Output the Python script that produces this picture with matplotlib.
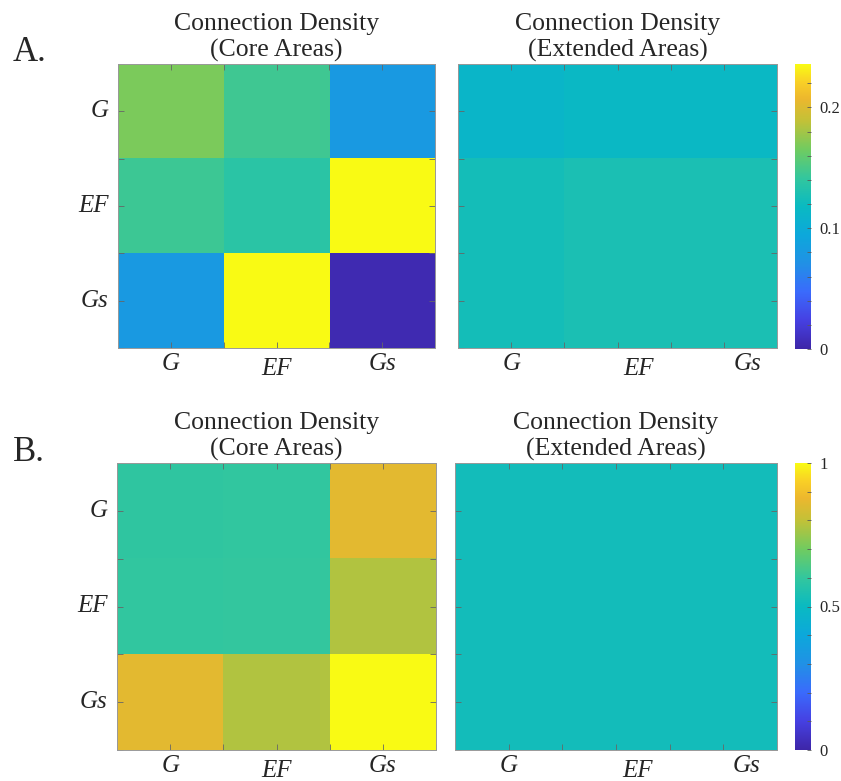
import numpy as np
import matplotlib
matplotlib.use("Agg")
import matplotlib.pyplot as plt
from matplotlib.colors import LinearSegmentedColormap
from matplotlib.ticker import MultipleLocator

# area labels
areas = ["G", "EF", "Gs"]

# A: connection density, colour range 0..0.236
a_core = np.array([[0.168, 0.146, 0.080],
                   [0.145, 0.137, 0.236],
                   [0.080, 0.236, 0.004]])
a_ext = np.array([[0.112, 0.116, 0.116],
                  [0.124, 0.128, 0.128],
                  [0.124, 0.128, 0.128]])
a_vmax = 0.236
a_cbar_ticks = [0, 0.1, 0.2]

# B: normalised, colour range 0..1
b_core = np.array([[0.59, 0.595, 0.86],
                   [0.595, 0.60, 0.78],
                   [0.86, 0.78, 1.00]])
b_ext = np.array([[0.52, 0.52, 0.52],
                  [0.52, 0.52, 0.52],
                  [0.52, 0.52, 0.52]])
b_vmax = 1.0
b_cbar_ticks = [0, 0.5, 1]

# rough parula
parula = LinearSegmentedColormap.from_list("parula", [
    (0.00, (0.243, 0.150, 0.660)),
    (0.10, (0.275, 0.255, 0.890)),
    (0.20, (0.230, 0.420, 0.990)),
    (0.30, (0.130, 0.570, 0.900)),
    (0.40, (0.050, 0.660, 0.860)),
    (0.50, (0.040, 0.730, 0.760)),
    (0.60, (0.200, 0.780, 0.620)),
    (0.70, (0.440, 0.800, 0.380)),
    (0.80, (0.760, 0.760, 0.220)),
    (0.88, (0.930, 0.720, 0.180)),
    (0.94, (0.980, 0.820, 0.150)),
    (1.00, (0.977, 0.984, 0.081)),
])

serif = ["Liberation Serif", "DejaVu Serif"]
plt.rcParams["font.family"] = serif

W, H = 841, 781
fig = plt.figure(figsize=(W / 100, H / 100), dpi=100)


def px_axes(x0, y0, x1, y1):
    return fig.add_axes([x0 / W, 1 - y1 / H, (x1 - x0) / W, (y1 - y0) / H])


def draw_panel(ax, mat, vmax, title, xlab_pos, ylabels=True):
    ax.imshow(mat, cmap=parula, vmin=0, vmax=vmax, extent=(0, 3, 3, 0),
              aspect="auto", interpolation="nearest")
    ax.set_xlim(0, 3)
    ax.set_ylim(3, 0)
    ax.set_xticks([0.5, 1.5, 2.5])
    ax.set_yticks([0.5, 1.5, 2.5])
    ax.xaxis.set_minor_locator(MultipleLocator(0.5))
    ax.yaxis.set_minor_locator(MultipleLocator(0.5))
    ax.tick_params(which="both", direction="in", length=4, width=0.6,
                   color="0.4", top=True, right=True,
                   labelbottom=False, labelleft=False)
    for s in ax.spines.values():
        s.set_color("0.6")
        s.set_linewidth(0.7)
    if ylabels:
        for i, lab in enumerate(areas):
            ax.text(-0.03, i + 0.5, lab, transform=ax.get_yaxis_transform(),
                    ha="right", va="center", fontsize=18, style="italic",
                    color="#262626")
    for x, lab in zip(xlab_pos, areas):
        dy = -0.036 if lab == "EF" else -0.018
        ax.text(x, dy, lab, transform=ax.get_xaxis_transform(),
                ha="center", va="top", fontsize=18, style="italic",
                color="#262626")
    ax.text(0.5, 1.008, title, transform=ax.transAxes, ha="center",
            va="bottom", fontsize=18.5, color="#262626", linespacing=1.22)


def draw_cbar(cax, vmax, ticks, minor):
    grad = np.linspace(0, vmax, 256).reshape(-1, 1)
    cax.imshow(grad, cmap=parula, vmin=0, vmax=vmax, aspect="auto",
               origin="lower", extent=(0, 1, 0, vmax))
    cax.set_xticks([])
    cax.yaxis.tick_right()
    cax.set_yticks(ticks)
    cax.set_yticklabels([f"{t:g}" for t in ticks])
    cax.yaxis.set_minor_locator(MultipleLocator(minor))
    cax.tick_params(which="both", direction="in", length=3, width=0.6,
                    color="0.35", labelsize=12, pad=6, labelcolor="#262626")
    for s in cax.spines.values():
        s.set_visible(False)


core_x = [0.5, 1.5, 2.5]
ext_x = [0.5, 1.7, 2.72]

ax = px_axes(118, 64, 435, 348)
draw_panel(ax, a_core, a_vmax, "Connection Density\n(Core Areas)", core_x)
ax = px_axes(458, 64, 777, 348)
draw_panel(ax, a_ext, a_vmax, "Connection Density\n(Extended Areas)", ext_x,
           ylabels=False)
draw_cbar(px_axes(795, 64, 811, 349), a_vmax, a_cbar_ticks, 0.02)

ax = px_axes(117, 463, 436, 750)
draw_panel(ax, b_core, b_vmax, "Connection Density\n(Core Areas)", core_x)
ax = px_axes(455, 463, 777, 750)
draw_panel(ax, b_ext, b_vmax, "Connection Density\n(Extended Areas)", ext_x,
           ylabels=False)
draw_cbar(px_axes(795, 463, 811, 750), b_vmax, b_cbar_ticks, 0.1)

fig.text(13 / W, 1 - 61 / H, "A.", fontsize=25, color="#262626")
fig.text(13 / W, 1 - 461 / H, "B.", fontsize=25, color="#262626")

fig.savefig("out.png", dpi=100)
